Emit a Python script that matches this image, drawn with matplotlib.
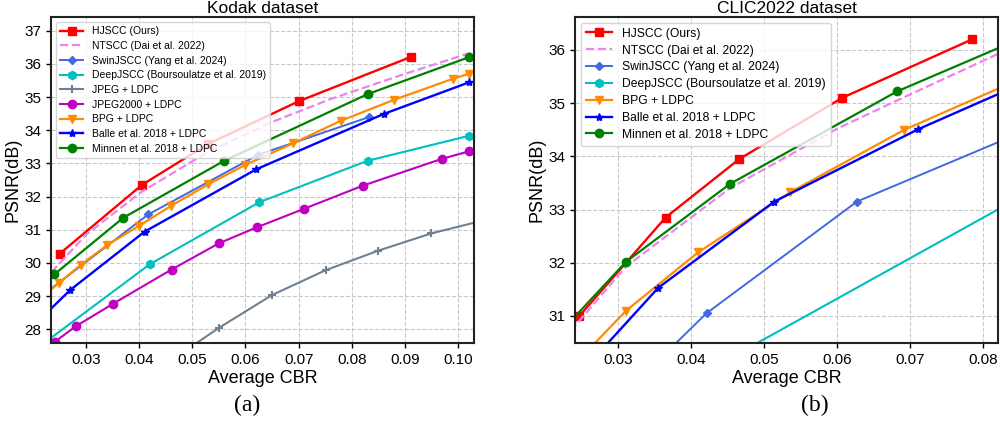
import matplotlib
matplotlib.use('Agg')
import matplotlib.pyplot as plt

plt.rcParams['font.family'] = ['Liberation Sans', 'DejaVu Sans']

# ---------------- Kodak data ----------------
k_hjscc_x = [0.025, 0.0405, 0.053, 0.0701, 0.0911]
k_hjscc_y = [30.27, 32.35, 33.59, 34.88, 36.21]
k_ntscc_x = [0.0235, 0.03, 0.0405, 0.053, 0.065, 0.076, 0.09, 0.104]
k_ntscc_y = [29.72, 30.85, 32.15, 33.35, 34.25, 34.94, 35.70, 36.42]
k_swin_x = [0.022, 0.0417, 0.0624, 0.0833]
k_swin_y = [29.05, 31.46, 33.26, 34.40]
k_deep_x = [0.02, 0.042, 0.0626, 0.083, 0.102]
k_deep_y = [27.33, 29.96, 31.83, 33.08, 33.83]
k_jpeg_x = [0.045, 0.055, 0.065, 0.0751, 0.085, 0.095, 0.106]
k_jpeg_y = [26.95, 28.04, 29.03, 29.78, 30.37, 30.89, 31.33]
k_j2k_x = [0.0241, 0.0281, 0.035, 0.0461, 0.055, 0.0621, 0.071, 0.0821, 0.097, 0.102]
k_j2k_y = [27.62, 28.09, 28.76, 29.80, 30.59, 31.07, 31.63, 32.33, 33.14, 33.36]
k_bpg_x = [0.022, 0.0249, 0.0291, 0.034, 0.040, 0.046, 0.053, 0.0599, 0.069, 0.078, 0.088, 0.099, 0.102]
k_bpg_y = [29.0, 29.40, 29.95, 30.54, 31.12, 31.72, 32.37, 32.95, 33.61, 34.29, 34.92, 35.55, 35.70]
k_balle_x = [0.022, 0.027, 0.041, 0.062, 0.086, 0.102]
k_balle_y = [28.4, 29.18, 30.94, 32.82, 34.49, 35.44]
k_minnen_x = [0.024, 0.037, 0.056, 0.083, 0.102]
k_minnen_y = [29.65, 31.36, 33.08, 35.09, 36.20]

# ---------------- CLIC2022 data ----------------
c_hjscc_x = [0.0247, 0.0365, 0.0466, 0.0607, 0.0785]
c_hjscc_y = [31.00, 32.85, 33.95, 35.10, 36.20]
c_ntscc_x = [0.0235, 0.0311, 0.0453, 0.06, 0.0682, 0.084]
c_ntscc_y = [30.72, 31.93, 33.40, 34.52, 35.05, 36.05]
c_swin_x = [0.035, 0.0421, 0.0627, 0.0835]
c_swin_y = [30.10, 31.05, 33.15, 34.35]
c_deep_x = [0.046, 0.085]
c_deep_y = [30.26, 33.23]
c_bpg_x = [0.0255, 0.0311, 0.041, 0.0535, 0.0692, 0.09]
c_bpg_y = [30.30, 31.10, 32.20, 33.32, 34.50, 35.75]
c_balle_x = [0.027, 0.0355, 0.0514, 0.0711, 0.09]
c_balle_y = [30.25, 31.53, 33.15, 34.51, 35.65]
c_minnen_x = [0.0235, 0.0311, 0.0453, 0.0682, 0.09]
c_minnen_y = [30.90, 32.02, 33.48, 35.22, 36.50]

names = ['HJSCC (Ours)', 'NTSCC (Dai et al. 2022)', 'SwinJSCC (Yang et al. 2024)',
         'DeepJSCC (Boursoulatze et al. 2019)', 'JPEG + LDPC', 'JPEG2000 + LDPC',
         'BPG + LDPC', 'Balle et al. 2018 + LDPC', 'Minnen et al. 2018 + LDPC']

fig = plt.figure(figsize=(10, 4.21), dpi=100)
ax1 = fig.add_axes([0.051, 0.185, 0.423, 0.775])
ax2 = fig.add_axes([0.575, 0.185, 0.423, 0.775])


def style(ax, title):
    ax.grid(True, linestyle='--', color='#c8c8c8', linewidth=0.8)
    ax.set_axisbelow(True)
    for s in ax.spines.values():
        s.set_linewidth(1.5)
        s.set_color('#222222')
    ax.tick_params(labelsize=11, length=3.5, width=1)
    ax.set_xlabel('Average CBR', fontsize=13, labelpad=2)
    ax.set_ylabel('PSNR(dB)', fontsize=13, labelpad=2)
    ax.set_title(title, fontsize=12.5, pad=3)


# Kodak
ax1.plot(k_hjscc_x, k_hjscc_y, color='red', marker='s', ms=6, lw=1.7, label=names[0])
ax1.plot(k_ntscc_x, k_ntscc_y, color='violet', ls='--', lw=1.6, label=names[1])
ax1.plot(k_swin_x, k_swin_y, color='royalblue', marker='D', ms=4, lw=1.4, label=names[2])
ax1.plot(k_deep_x, k_deep_y, color='c', marker='h', ms=6, lw=1.5, label=names[3])
ax1.plot(k_jpeg_x, k_jpeg_y, color='slategray', marker='+', ms=6, mew=1.5, lw=1.5, label=names[4])
ax1.plot(k_j2k_x, k_j2k_y, color='m', marker='o', ms=6, lw=1.5, label=names[5])
ax1.plot(k_bpg_x, k_bpg_y, color='darkorange', marker='v', ms=6, lw=1.6, label=names[6])
ax1.plot(k_balle_x, k_balle_y, color='blue', marker='*', ms=6, lw=1.7, label=names[7])
ax1.plot(k_minnen_x, k_minnen_y, color='green', marker='o', ms=6, lw=1.6, label=names[8])
ax1.set_xlim(0.0234, 0.103)
ax1.set_ylim(27.58, 37.42)
ax1.set_xticks([0.03, 0.04, 0.05, 0.06, 0.07, 0.08, 0.09, 0.10])
ax1.set_xticklabels(['0.03', '0.04', '0.05', '0.06', '0.07', '0.08', '0.09', '0.10'])
ax1.set_yticks(range(28, 38))
style(ax1, 'Kodak dataset')
ax1.legend(loc='upper left', fontsize=7.5, framealpha=0.8, handlelength=2.2,
           labelspacing=0.45)

# CLIC2022
ax2.plot(c_hjscc_x, c_hjscc_y, color='red', marker='s', ms=6, lw=1.7, label=names[0])
ax2.plot(c_ntscc_x, c_ntscc_y, color='violet', ls='--', lw=1.6, label=names[1])
ax2.plot(c_swin_x, c_swin_y, color='royalblue', marker='D', ms=4, lw=1.4, label=names[2])
ax2.plot(c_deep_x, c_deep_y, color='c', marker='h', ms=6, lw=1.5, label=names[3])
ax2.plot(c_bpg_x, c_bpg_y, color='darkorange', marker='v', ms=6, lw=1.6, label=names[6])
ax2.plot(c_balle_x, c_balle_y, color='blue', marker='*', ms=6, lw=1.7, label=names[7])
ax2.plot(c_minnen_x, c_minnen_y, color='green', marker='o', ms=6, lw=1.6, label=names[8])
ax2.set_xlim(0.0241, 0.082)
ax2.set_ylim(30.49, 36.62)
ax2.set_xticks([0.03, 0.04, 0.05, 0.06, 0.07, 0.08])
ax2.set_xticklabels(['0.03', '0.04', '0.05', '0.06', '0.07', '0.08'])
ax2.set_yticks(range(31, 37))
style(ax2, 'CLIC2022 dataset')
ax2.legend(loc='upper left', fontsize=8.7, framealpha=0.8, handlelength=2.2,
           labelspacing=0.4)

fig.text(0.247, 0.036, '(a)', family='Liberation Serif', fontsize=17, ha='center', va='center')
fig.text(0.815, 0.036, '(b)', family='Liberation Serif', fontsize=17, ha='center', va='center')

plt.savefig('out.png', dpi=100)
